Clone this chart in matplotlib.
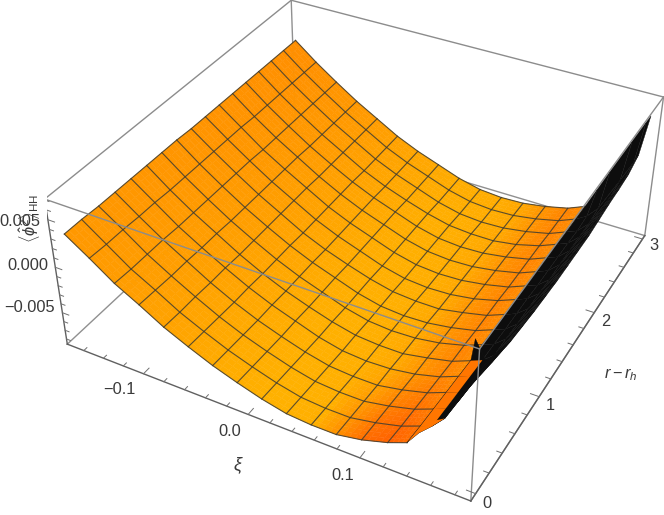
#!/usr/bin/env python
"""3D surface of <phi^2> against xi and r - r_h, in the look of a Mathematica Plot3D."""
import numpy as np
import matplotlib
matplotlib.use("Agg")
import matplotlib.pyplot as plt

plt.rcParams["font.family"] = ["Liberation Sans", "DejaVu Sans"]
plt.rcParams["mathtext.fontset"] = "custom"
plt.rcParams["mathtext.rm"] = "Liberation Sans"
plt.rcParams["mathtext.it"] = "Liberation Sans:italic"

XI_RANGE = (-0.177, 0.193)
R_RANGE = (-0.07, 3.05)
Z_RANGE = (-0.0086, 0.0071)

# mesh columns, the last one is the foot of the steep wall
XI = [-0.17, -0.14775, -0.1255, -0.10325, -0.081, -0.05875, -0.0365, -0.01425,
      0.008, 0.03025, 0.0525, 0.07475, 0.097, 0.11925, 0.1355]
XI_WALL = [0.1355, 0.1455, 0.1554, 0.1723, 0.1825, 0.186]
R = [0.0, 0.1875, 0.375, 0.5625, 0.75, 0.9375, 1.125, 1.3125, 1.5, 1.6875,
     1.875, 2.0625, 2.25, 2.4375, 2.625, 2.8125, 3.0]

# values in units of 1e-4, one row per R
Z_MAIN = [
    [32, 15, -3, -17, -32, -44, -55, -64, -72, -78, -80, -80, -75, -67, -59],
    [32, 14, -4, -18, -33, -45, -56, -65, -73, -79, -81, -81, -76, -69, -61],
    [31, 14, -4, -19, -33, -46, -57, -66, -74, -80, -82, -82, -77, -70, -62],
    [31, 13, -4, -19, -34, -47, -58, -67, -75, -81, -83, -83, -78, -71, -63],
    [31, 13, -5, -20, -34, -47, -58, -67, -76, -82, -84, -83, -79, -72, -64],
    [31, 12, -5, -20, -35, -48, -59, -68, -76, -82, -84, -84, -79, -73, -65],
    [31, 12, -5, -21, -35, -48, -59, -68, -77, -83, -85, -84, -80, -73, -65],
    [31, 12, -5, -21, -35, -48, -59, -68, -77, -83, -85, -84, -80, -74, -66],
    [30, 12, -5, -21, -35, -49, -60, -69, -77, -83, -85, -85, -80, -74, -66],
    [30, 12, -5, -21, -35, -49, -60, -69, -78, -84, -86, -85, -81, -74, -66],
    [30, 12, -6, -21, -35, -49, -60, -69, -78, -84, -86, -85, -81, -75, -67],
    [30, 11, -6, -21, -36, -49, -60, -69, -78, -84, -86, -85, -81, -75, -67],
    [30, 11, -6, -22, -36, -49, -60, -69, -78, -84, -86, -85, -81, -75, -67],
    [30, 11, -6, -22, -36, -50, -61, -70, -78, -84, -86, -86, -82, -75, -67],
    [30, 11, -6, -22, -36, -50, -61, -70, -79, -85, -87, -86, -82, -76, -68],
    [30, 11, -6, -22, -36, -50, -61, -70, -79, -85, -87, -86, -82, -76, -68],
    [30, 11, -6, -22, -36, -50, -61, -70, -79, -85, -87, -86, -82, -76, -68],
]
Z_WALL = [
    [-59, -43, -26, 3, 40, 71],
    [-61, -56, -43, -3, 22, 30],
    [-62, -57, -45, -7, 16, 24],
    [-63, -58, -47, -13, 8, 15],
    [-64, -59, -49, -15, 6, 13],
    [-65, -60, -50, -16, 4, 11],
    [-65, -60, -50, -17, 3, 10],
    [-66, -61, -51, -18, 2, 9],
    [-66, -61, -51, -18, 2, 9],
    [-66, -61, -51, -18, 2, 9],
    [-67, -62, -52, -18, 2, 9],
    [-67, -62, -51, -17, 4, 11],
    [-67, -62, -51, -16, 6, 13],
    [-67, -62, -51, -15, 7, 14],
    [-68, -63, -51, -14, 8, 16],
    [-68, -61, -48, -10, 14, 23],
    [-68, -44, -20, 20, 44, 52],
]

# green channel of the orange per mesh column, and its drift with R
GREEN_COL = [150, 152, 155, 158, 162, 166, 170, 173, 176, 176, 174, 168, 148, 132, 142]
GREEN_ROW = [2, 2, 1, 1, 0, 0, -1, -1, -2, -3, -3, -4, -5, -5, -6, -7, -8]

XI_MAJOR = [-0.1, 0.0, 0.1]
R_MAJOR = [0, 1, 2, 3]
Z_MAJOR = [-0.005, 0.0, 0.005]


def refine(a, n=4):
    """Bilinear subdivision of a table, only so the colours blend inside a cell."""
    a = np.asarray(a, float)
    u = np.linspace(0, a.shape[1] - 1, (a.shape[1] - 1) * n + 1)
    v = np.linspace(0, a.shape[0] - 1, (a.shape[0] - 1) * n + 1)
    b = np.array([np.interp(u, np.arange(a.shape[1]), row) for row in a])
    return np.array([np.interp(v, np.arange(a.shape[0]), col) for col in b.T]).T


xi = np.array(XI)
r = np.array(R)
z = np.array(Z_MAIN) * 1e-4
zw = np.array(Z_WALL) * 1e-4

fig = plt.figure(figsize=(6.64, 5.15), dpi=100)
ax = fig.add_axes([47.27 / 664, -26.18 / 515, 627.73 / 664, 627.73 / 515],
                  projection="3d", computed_zorder=False)
ax.set_xlim(*XI_RANGE)
ax.set_ylim(*R_RANGE)
ax.set_zlim(*Z_RANGE)
ax.view_init(36.0175, -61.6402, -0.0208)
ax.set_proj_type("persp", focal_length=0.4406)
ax.set_box_aspect((1, 1.0046, 0.3989))
ax.set_axis_off()
ax.patch.set_visible(False)

x0, x1 = XI_RANGE
y0, y1 = R_RANGE
z0, z1 = Z_RANGE

# box edges behind the surface
back = [((x0, y1, z0), (x1, y1, z0)), ((x0, y0, z0), (x0, y1, z0)),
        ((x0, y1, z0), (x0, y1, z1))]
for a, b in back:
    ax.plot(*zip(a, b), color="#909090", lw=1.0, zorder=1)

# orange top of the surface
XX, RR = np.meshgrid(xi, r)
green = np.array(GREEN_COL)[None, :] + np.array(GREEN_ROW)[:, None] * (1 - np.arange(15) / 14)[None, :]
green[:4, 11:] -= np.array([[28, 40, 34, 30]] * 4) * np.array([[1.0], [0.8], [0.5], [0.25]])
G = refine(green)
rgb = np.dstack([np.ones_like(G), G / 255, np.zeros_like(G)])
ax.plot_surface(refine(XX), refine(RR), refine(z), facecolors=rgb, rstride=1, cstride=1,
                shade=False, linewidth=0.3, antialiased=True, zorder=2)

# low part of the wall near r = 0 stays orange, the rest is the dark underside
XW, RW = np.meshgrid(XI_WALL, r)
ax.plot_surface(XW, RW, zw, color=(0.05, 0.05, 0.05), rstride=1, cstride=1, shade=False,
                linewidth=0.3, edgecolor=(0.07, 0.07, 0.07), antialiased=True, zorder=4)
orange_low = (1.0, 118 / 255, 0.0)
ax.plot_surface(XW[:6, :2], RW[:6, :2], zw[:6, :2], color=orange_low, rstride=1, cstride=1,
                shade=False, linewidth=0.2, antialiased=True, zorder=4.5)
ax.plot_surface(XW[:2, 1:3], RW[:2, 1:3], zw[:2, 1:3], color=orange_low, rstride=1, cstride=1,
                shade=False, linewidth=0.2, antialiased=True, zorder=4.5)

# mesh
mesh = dict(color="#3c3a30", lw=0.8, alpha=0.85, zorder=3)
for j in range(len(R)):
    ax.plot(xi, np.full(len(xi), r[j]), z[j], **mesh)
for i in range(len(XI)):
    ax.plot(np.full(len(r), xi[i]), r, z[:, i], **mesh)

# box edges in front
front = [((x0, y0, z1), (x1, y0, z1)), ((x1, y0, z1), (x1, y1, z1)),
         ((x1, y1, z1), (x0, y1, z1)), ((x0, y1, z1), (x0, y0, z1)),
         ((x1, y0, z0), (x1, y0, z1)), ((x1, y1, z0), (x1, y1, z1)),
         ((x1, y0, z0), (x1, y1, z0))]
for a, b in front:
    ax.plot(*zip(a, b), color="#8c8c8c", lw=1.0, zorder=6)
for a, b in [((x0, y0, z0), (x1, y0, z0)), ((x0, y0, z0), (x0, y0, z1))]:
    ax.plot(*zip(a, b), color="#606060", lw=1.0, zorder=6)
ax.plot(*zip((x1, y0, z0), (x1, y1, z0)), color="#606060", lw=1.0, zorder=6)

# ticks
tick = dict(color="#707070", lw=0.7, zorder=6)
for t in np.arange(-0.16, 0.19, 0.02):
    ln = 0.065 if min(abs(t - m) for m in XI_MAJOR) < 1e-6 else 0.035
    ax.plot([t, t], [y0, y0 + ln], [z0, z0], **tick)
for t in np.arange(0, 3.01, 0.2):
    ln = 0.0075 if min(abs(t - m) for m in R_MAJOR) < 1e-6 else 0.0045
    ax.plot([x1, x1 - ln], [t, t], [z0, z0], **tick)
for t in np.arange(-0.008, 0.0071, 0.001):
    ln = 0.0065 if min(abs(t - m) for m in Z_MAJOR) < 1e-6 else 0.004
    ax.plot([x0, x0 + ln], [y0, y0], [t, t], **tick)


def label(px, py, s, **kw):
    fig.text(px / 664, 1 - py / 515, s, ha="center", va="center", color="#3a3a3a", **kw)


fs = 11.8
label(119, 390, "\u22120.1", fontsize=fs)
label(230, 431, "0.0", fontsize=fs)
label(343, 476, "0.1", fontsize=fs)
label(238, 465, "\u03be", fontsize=13, style="italic")
label(20, 221, "0.005", fontsize=fs)
label(28, 266, "0.000", fontsize=fs)
label(30, 307, "\u22120.005", fontsize=fs)
label(487, 503, "0", fontsize=fs)
label(550, 406, "1", fontsize=fs)
label(606, 322, "2", fontsize=fs)
label(654, 246, "3", fontsize=fs)
label(621, 375, r"$r-r_h$", fontsize=fs)
label(29, 218, r"$\langle\hat{\phi}^2\rangle_{\mathrm{HH}}$", fontsize=fs, rotation=90)

fig.savefig("out.png", dpi=100)
